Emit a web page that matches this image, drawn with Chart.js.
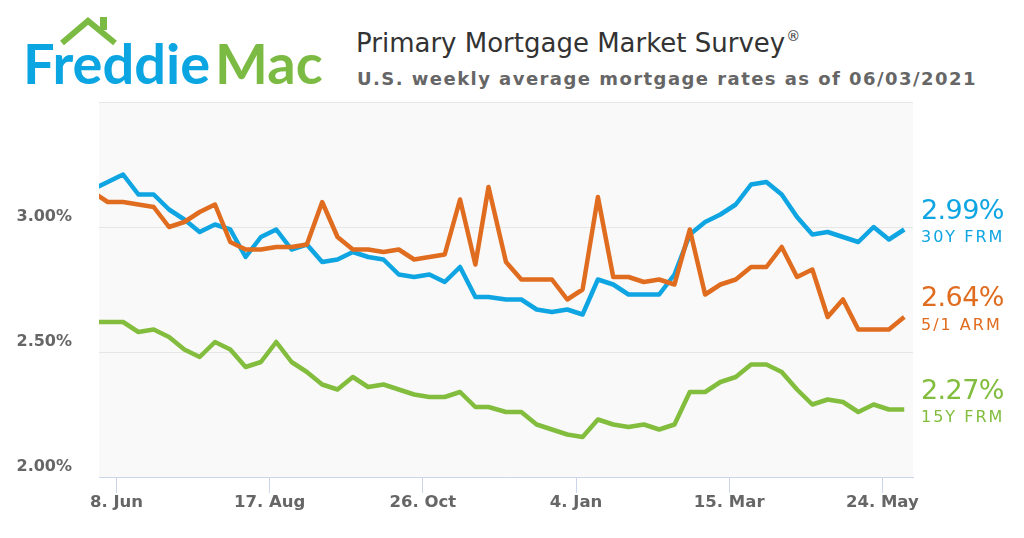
<!DOCTYPE html>
<html>
<head>
<meta charset="utf-8">
<title>Primary Mortgage Market Survey</title>
<script src="https://cdn.jsdelivr.net/npm/chart.js@4.4.1/dist/chart.umd.min.js"></script>
<style>
  html, body { margin: 0; padding: 0; background: #fff; }
  #wrap { position: relative; width: 1024px; height: 538px; overflow: hidden; }
  #rate-chart { position: absolute; left: 0; top: 0; }
  .logo { position: absolute; left: 23px; top: 35px; font-family: Lato, sans-serif; font-weight: 700;
          font-size: 56px; line-height: 56px; white-space: nowrap; letter-spacing: 0; }
  .logo .freddie { color: #0ba5e2; }
  .logo .mac { color: #7cbb43; margin-left: 5px; }
  .roof { position: absolute; left: 55px; top: 12px; }
  .title { position: absolute; left: 356px; top: 30px; font-family: "DejaVu Sans", sans-serif;
           font-size: 26px; line-height: 26px; color: #333; white-space: nowrap; }
  .title sup { font-size: 14px; position: relative; top: -11px; vertical-align: baseline; margin-left: 1px; }
  .subtitle { position: absolute; left: 357px; top: 70px; font-family: "DejaVu Sans", sans-serif;
              font-weight: bold; font-size: 18px; line-height: 18px; letter-spacing: 1.45px;
              color: #666; white-space: nowrap; }
</style>
</head>
<body>
<div id="wrap">
  <svg class="roof" width="70" height="40" viewBox="0 0 70 40">
    <polyline points="7,31 33,9 60,31" fill="none" stroke="#7cbb43" stroke-width="6" stroke-linejoin="miter"/>
    <rect x="45" y="5" width="7" height="13" fill="#7cbb43"/>
  </svg>
  <div class="logo"><span class="freddie">Freddie</span><span class="mac">Mac</span></div>
  <div class="title">Primary Mortgage Market Survey<sup>®</sup></div>
  <div class="subtitle">U.S. weekly average mortgage rates as of 06/03/2021</div>
  <canvas id="rate-chart" width="1024" height="538"></canvas>
</div>
<script>
// weekly survey dates (Thursdays), the first one sits just left of the plot
var weekDates = [
  '2020-05-28', '2020-06-04', '2020-06-11', '2020-06-18', '2020-06-25',
  '2020-07-02', '2020-07-09', '2020-07-16', '2020-07-23', '2020-07-30',
  '2020-08-06', '2020-08-13', '2020-08-20', '2020-08-27',
  '2020-09-03', '2020-09-10', '2020-09-17', '2020-09-24',
  '2020-10-01', '2020-10-08', '2020-10-15', '2020-10-22', '2020-10-29',
  '2020-11-05', '2020-11-12', '2020-11-19', '2020-11-25',
  '2020-12-03', '2020-12-10', '2020-12-17', '2020-12-24', '2020-12-31',
  '2021-01-07', '2021-01-14', '2021-01-21', '2021-01-28',
  '2021-02-04', '2021-02-11', '2021-02-18', '2021-02-25',
  '2021-03-04', '2021-03-11', '2021-03-18', '2021-03-25',
  '2021-04-01', '2021-04-08', '2021-04-15', '2021-04-22', '2021-04-29',
  '2021-05-06', '2021-05-13', '2021-05-20', '2021-05-27', '2021-06-03'
];

var frm30 = [
  3.15, 3.18, 3.21, 3.13, 3.13, 3.07, 3.03, 2.98, 3.01, 2.99,
  2.88, 2.96, 2.99, 2.91, 2.93, 2.86, 2.87, 2.90, 2.88, 2.87,
  2.81, 2.80, 2.81, 2.78, 2.84, 2.72, 2.72, 2.71, 2.71, 2.67,
  2.66, 2.67, 2.65, 2.79, 2.77, 2.73, 2.73, 2.73, 2.81, 2.97,
  3.02, 3.05, 3.09, 3.17, 3.18, 3.13, 3.04, 2.97, 2.98, 2.96,
  2.94, 3.00, 2.95, 2.99
];

var arm51 = [
  3.14, 3.10, 3.10, 3.09, 3.08, 3.00, 3.02, 3.06, 3.09, 2.94,
  2.91, 2.91, 2.92, 2.92, 2.93, 3.10, 2.96, 2.91, 2.91, 2.90,
  2.91, 2.87, 2.88, 2.89, 3.11, 2.85, 3.16, 2.86, 2.79, 2.79,
  2.79, 2.71, 2.75, 3.12, 2.80, 2.80, 2.78, 2.79, 2.77, 2.99,
  2.73, 2.77, 2.79, 2.84, 2.84, 2.92, 2.80, 2.83, 2.64, 2.71,
  2.59, 2.59, 2.59, 2.64
];

var frm15 = [
  2.62, 2.62, 2.62, 2.58, 2.59, 2.56, 2.51, 2.48, 2.54, 2.51,
  2.44, 2.46, 2.54, 2.46, 2.42, 2.37, 2.35, 2.40, 2.36, 2.37,
  2.35, 2.33, 2.32, 2.32, 2.34, 2.28, 2.28, 2.26, 2.26, 2.21,
  2.19, 2.17, 2.16, 2.23, 2.21, 2.20, 2.21, 2.19, 2.21, 2.34,
  2.34, 2.38, 2.40, 2.45, 2.45, 2.42, 2.35, 2.29, 2.31, 2.30,
  2.26, 2.29, 2.27, 2.27
];

var tickDates = ['2020-06-08', '2020-08-17', '2020-10-26', '2021-01-04', '2021-03-15', '2021-05-24'];
var tickLabels = ['8. Jun', '17. Aug', '26. Oct', '4. Jan', '15. Mar', '24. May'];
var yTicks = [2.0, 2.5, 3.0, 3.5];
var axisStart = '2020-05-31';
var axisEnd = '2021-06-07';

function dayNumber(iso) {
    return Date.parse(iso + 'T00:00:00Z') / 86400000;
}

function toPoints(values) {
    return weekDates.map(function (d, i) {
        return { x: dayNumber(d), y: values[i] };
    });
}

var plotBackground = {
    id: 'plotBackground',
    beforeDraw: function (chart) {
        var a = chart.chartArea;
        var ctx = chart.ctx;
        ctx.save();
        ctx.fillStyle = '#f9f9f9';
        ctx.fillRect(a.left, a.top, a.right - a.left, a.bottom - a.top);
        ctx.restore();
    }
};

// last value + series name to the right of the plot
var endLabels = {
    id: 'endLabels',
    afterDraw: function (chart) {
        var ctx = chart.ctx;
        var yScale = chart.scales.y;
        var left = chart.chartArea.right + 8;
        chart.data.datasets.forEach(function (ds) {
            var last = ds.data[ds.data.length - 1].y;
            var py = yScale.getPixelForValue(last);
            ctx.save();
            ctx.fillStyle = ds.borderColor;
            ctx.textAlign = 'left';
            ctx.textBaseline = 'alphabetic';
            ctx.font = '27px "DejaVu Sans"';
            ctx.letterSpacing = '-0.6px';
            ctx.fillText(last.toFixed(2) + '%', left, py - 11);
            ctx.font = '16px "DejaVu Sans"';
            ctx.letterSpacing = '2px';
            ctx.fillText(ds.label, left, py + 12.5);
            ctx.restore();
        });
    }
};

var labelFont = { family: 'DejaVu Sans', size: 16, weight: 'bold' };

var rateConfig = {
    type: 'line',
    data: {
        datasets: [{
            label: '5/1 ARM',
            data: toPoints(arm51),
            borderColor: '#e06c1f',
            borderWidth: 4.5,
            order: 0
        }, {
            label: '15Y FRM',
            data: toPoints(frm15),
            borderColor: '#82bd3e',
            borderWidth: 4.5,
            order: 1
        }, {
            label: '30Y FRM',
            data: toPoints(frm30),
            borderColor: '#0ea5e2',
            borderWidth: 4.5,
            order: 2
        }]
    },
    options: {
        responsive: false,
        animation: false,
        devicePixelRatio: 1,
        layout: { padding: { top: 102, right: 111, left: 0, bottom: 0 } },
        elements: {
            point: { radius: 0, hoverRadius: 0 },
            line: { tension: 0, borderJoinStyle: 'round', borderCapStyle: 'butt', fill: false }
        },
        datasets: { line: { clip: 0 } },
        plugins: {
            legend: { display: false },
            tooltip: { enabled: false },
            title: { display: false }
        },
        scales: {
            x: {
                type: 'linear',
                min: dayNumber(axisStart),
                max: dayNumber(axisEnd),
                afterBuildTicks: function (scale) {
                    scale.ticks = tickDates.map(function (d) { return { value: dayNumber(d) }; });
                },
                afterFit: function (scale) { scale.height = 61; },
                grid: {
                    drawOnChartArea: false,
                    drawTicks: true,
                    tickLength: 16,
                    tickColor: '#ccd6eb',
                    tickWidth: 1
                },
                border: { color: '#ccd6eb', width: 1 },
                ticks: {
                    autoSkip: false,
                    maxRotation: 0,
                    padding: 0,
                    color: '#666666',
                    font: { family: 'DejaVu Sans', size: 16.5, weight: 'bold' },
                    callback: function (value, index) { return tickLabels[index]; }
                }
            },
            y: {
                min: 2,
                max: 3.5,
                afterBuildTicks: function (scale) {
                    scale.ticks = yTicks.map(function (v) { return { value: v }; });
                },
                afterFit: function (scale) { scale.width = 99; },
                grid: {
                    drawTicks: false,
                    lineWidth: 1,
                    color: function (ctx) {
                        return ctx.tick && ctx.tick.value === 2 ? 'rgba(0,0,0,0)' : '#e6e6e6';
                    }
                },
                border: { display: false },
                ticks: {
                    padding: 27,
                    labelOffset: -10,
                    color: '#666666',
                    font: labelFont,
                    callback: function (value) {
                        return value === 3.5 ? '' : value.toFixed(2) + '%';
                    }
                }
            }
        }
    },
    plugins: [plotBackground, endLabels]
};

var rateContext = document.getElementById('rate-chart').getContext('2d');
window.rateChart = new Chart(rateContext, rateConfig);
</script>
</body>
</html>
